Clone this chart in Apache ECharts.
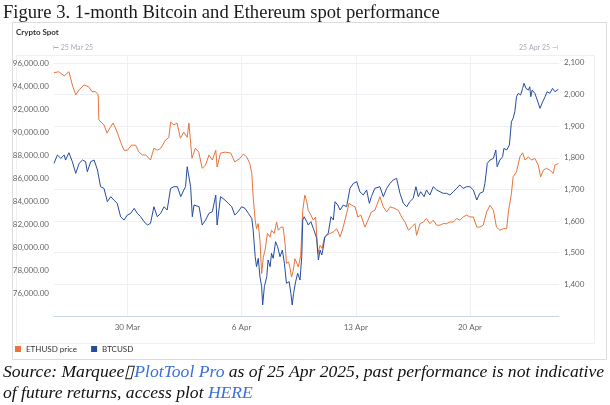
<!DOCTYPE html>
<html>
<head>
<meta charset="utf-8">
<script src="https://cdn.jsdelivr.net/npm/echarts@6/dist/echarts.min.js"></script>
<style>
  html, body { margin: 0; padding: 0; background: #fff; }
  #chart { width: 610px; height: 405px; }
</style>
</head>
<body>
<div id="chart"></div>
<script>
// ETH (right axis)
var ethTime = [
  '2025-03-25 12:00','2025-03-25 19:00','2025-03-26 03:00','2025-03-26 10:00','2025-03-26 15:00','2025-03-26 20:00',
  '2025-03-27 01:00','2025-03-27 08:00','2025-03-27 15:00','2025-03-27 20:00','2025-03-28 01:00','2025-03-28 05:00',
  '2025-03-28 06:00','2025-03-28 13:30','2025-03-28 18:00','2025-03-28 23:00','2025-03-29 03:00','2025-03-29 09:00',
  '2025-03-29 14:00','2025-03-29 19:00','2025-03-30 00:00','2025-03-30 06:00','2025-03-30 12:00','2025-03-30 17:00',
  '2025-03-30 22:00','2025-03-31 03:00','2025-03-31 10:00','2025-03-31 15:00','2025-03-31 20:00','2025-04-01 01:00',
  '2025-04-01 08:00','2025-04-01 13:00','2025-04-01 15:30','2025-04-01 20:30','2025-04-02 01:00','2025-04-02 06:00',
  '2025-04-02 11:00','2025-04-02 16:00','2025-04-02 18:30','2025-04-02 23:00','2025-04-03 04:00','2025-04-03 09:00',
  '2025-04-03 14:00','2025-04-03 19:00','2025-04-04 00:00','2025-04-04 05:00','2025-04-04 10:00','2025-04-04 12:00',
  '2025-04-04 17:00','2025-04-05 00:00','2025-04-05 08:00','2025-04-05 14:00','2025-04-05 21:30','2025-04-06 02:30',
  '2025-04-06 07:30','2025-04-06 12:00','2025-04-06 15:00','2025-04-06 17:00','2025-04-06 20:00','2025-04-06 22:00',
  '2025-04-07 00:30','2025-04-07 03:00','2025-04-07 05:30','2025-04-07 08:00','2025-04-07 10:30','2025-04-07 14:00',
  '2025-04-07 18:00','2025-04-07 20:00','2025-04-08 00:00','2025-04-08 03:30','2025-04-08 06:00','2025-04-08 10:00',
  '2025-04-08 13:00','2025-04-08 16:00','2025-04-08 18:00','2025-04-08 21:00','2025-04-08 23:00','2025-04-09 01:30',
  '2025-04-09 04:00','2025-04-09 06:30','2025-04-09 09:00','2025-04-09 11:30','2025-04-09 15:00','2025-04-09 18:00',
  '2025-04-09 21:00','2025-04-10 00:00','2025-04-10 02:00','2025-04-10 06:00','2025-04-10 09:30','2025-04-10 13:00',
  '2025-04-10 16:00','2025-04-10 19:30','2025-04-10 22:30','2025-04-11 01:30','2025-04-11 05:00','2025-04-11 10:00',
  '2025-04-11 15:00','2025-04-11 20:00','2025-04-12 01:00','2025-04-12 05:30','2025-04-12 10:30','2025-04-12 14:00',
  '2025-04-12 18:00','2025-04-12 23:00','2025-04-13 03:00','2025-04-13 07:30','2025-04-13 13:30','2025-04-13 18:00',
  '2025-04-13 23:00','2025-04-14 04:00','2025-04-14 11:30','2025-04-14 16:30','2025-04-14 21:30','2025-04-15 02:30',
  '2025-04-15 09:30','2025-04-15 14:30','2025-04-15 19:30','2025-04-16 00:30','2025-04-16 05:30','2025-04-16 10:00',
  '2025-04-16 15:00','2025-04-16 17:30','2025-04-16 22:30','2025-04-17 03:30','2025-04-17 08:00','2025-04-17 13:00',
  '2025-04-17 18:00','2025-04-17 23:00','2025-04-18 04:00','2025-04-18 08:30','2025-04-18 13:30','2025-04-18 18:30',
  '2025-04-18 23:30','2025-04-19 04:30','2025-04-19 09:00','2025-04-19 14:00','2025-04-19 19:00','2025-04-20 00:00',
  '2025-04-20 05:00','2025-04-20 10:00','2025-04-20 14:30','2025-04-20 19:30','2025-04-21 00:30','2025-04-21 05:30',
  '2025-04-21 10:30','2025-04-21 15:00','2025-04-21 20:00','2025-04-22 01:00','2025-04-22 06:00','2025-04-22 08:30',
  '2025-04-22 13:00','2025-04-22 15:30','2025-04-22 20:30','2025-04-23 01:30','2025-04-23 05:30','2025-04-23 09:00',
  '2025-04-23 14:00','2025-04-23 18:30','2025-04-23 23:30','2025-04-24 04:30','2025-04-24 08:00','2025-04-24 12:00',
  '2025-04-24 16:30','2025-04-24 21:30','2025-04-25 02:30','2025-04-25 05:00','2025-04-25 10:00'
];
var ethPrice = [
  2069,2072,2059,2072,2030,1999,
  2015,2030,2025,2009,2009,1999,
  1920,1904,1878,1897,1910,1881,
  1850,1824,1824,1840,1840,1818,
  1809,1809,1793,1830,1824,1830,
  1856,1865,1913,1904,1910,1862,
  1881,1865,1910,1799,1830,1818,
  1767,1777,1809,1793,1824,1771,
  1815,1818,1815,1787,1798,1812,
  1803,1782,1751,1677,1603,1576,
  1592,1539,1434,1486,1508,1561,
  1550,1571,1561,1597,1571,1581,
  1581,1529,1466,1471,1455,1423,
  1444,1481,1481,1455,1492,1634,
  1682,1661,1634,1619,1603,1613,
  1497,1523,1513,1545,1555,1561,
  1566,1576,1550,1581,1624,1656,
  1650,1645,1613,1619,1581,1603,
  1629,1634,1677,1645,1629,1645,
  1640,1634,1613,1597,1571,1581,
  1592,1555,1592,1597,1608,1592,
  1603,1587,1587,1592,1592,1597,
  1597,1608,1603,1613,1619,1613,
  1613,1581,1581,1587,1629,1650,
  1634,1581,1571,1576,1576,1629,
  1687,1740,1756,1803,1816,1793,
  1803,1793,1798,1777,1740,1761,
  1767,1761,1751,1777,1782
];

// BTC (left axis)
var btcTime = [
  '2025-03-25 12:00','2025-03-25 17:00','2025-03-25 22:00','2025-03-26 03:00','2025-03-26 05:00','2025-03-26 10:00',
  '2025-03-26 15:00','2025-03-26 20:00','2025-03-27 01:00','2025-03-27 06:00','2025-03-27 10:30','2025-03-27 13:00',
  '2025-03-27 18:00','2025-03-27 23:00','2025-03-28 04:00','2025-03-28 08:30','2025-03-28 13:30','2025-03-28 18:30',
  '2025-03-28 23:30','2025-03-29 04:00','2025-03-29 09:00','2025-03-29 14:00','2025-03-29 19:00','2025-03-30 00:00',
  '2025-03-30 05:00','2025-03-30 10:00','2025-03-30 14:30','2025-03-30 19:30','2025-03-31 00:30','2025-03-31 05:30',
  '2025-03-31 10:00','2025-03-31 15:00','2025-03-31 20:00','2025-04-01 01:00','2025-04-01 06:00','2025-04-01 10:30',
  '2025-04-01 15:30','2025-04-01 20:30','2025-04-02 01:30','2025-04-02 06:30','2025-04-02 11:00','2025-04-02 13:30',
  '2025-04-02 16:00','2025-04-02 18:30','2025-04-02 21:00','2025-04-02 23:30','2025-04-03 02:00','2025-04-03 09:30',
  '2025-04-03 14:00','2025-04-03 19:00','2025-04-04 00:00','2025-04-04 05:00','2025-04-04 10:00','2025-04-04 12:00',
  '2025-04-04 17:00','2025-04-04 23:30','2025-04-05 04:30','2025-04-05 09:30','2025-04-05 14:00','2025-04-05 19:00',
  '2025-04-06 00:00','2025-04-06 05:00','2025-04-06 10:00','2025-04-06 15:00','2025-04-06 17:00','2025-04-06 20:00',
  '2025-04-06 22:00','2025-04-07 00:30','2025-04-07 03:00','2025-04-07 05:30','2025-04-07 07:00','2025-04-07 09:30',
  '2025-04-07 13:00','2025-04-07 15:00','2025-04-07 18:00','2025-04-07 20:00','2025-04-07 22:30','2025-04-08 02:00',
  '2025-04-08 05:00','2025-04-08 08:30','2025-04-08 12:00','2025-04-08 15:00','2025-04-08 18:00','2025-04-08 22:00',
  '2025-04-09 00:30','2025-04-09 02:30','2025-04-09 04:30','2025-04-09 07:30','2025-04-09 10:30','2025-04-09 14:00',
  '2025-04-09 16:30','2025-04-09 18:00','2025-04-09 20:00','2025-04-10 00:00','2025-04-10 02:00','2025-04-10 06:00',
  '2025-04-10 09:30','2025-04-10 12:00','2025-04-10 14:30','2025-04-10 17:00','2025-04-10 19:30','2025-04-10 22:00',
  '2025-04-11 00:00','2025-04-11 02:30','2025-04-11 07:30','2025-04-11 11:30','2025-04-11 15:00','2025-04-11 17:30',
  '2025-04-11 21:30','2025-04-12 01:00','2025-04-12 05:30','2025-04-12 10:30','2025-04-12 15:30','2025-04-12 20:30',
  '2025-04-13 01:30','2025-04-13 06:00','2025-04-13 11:00','2025-04-13 16:00','2025-04-13 20:00','2025-04-13 23:00',
  '2025-04-14 04:00','2025-04-14 11:30','2025-04-14 16:30','2025-04-14 21:30','2025-04-15 02:30','2025-04-15 07:00',
  '2025-04-15 12:00','2025-04-15 17:00','2025-04-15 22:00','2025-04-16 03:00','2025-04-16 07:30','2025-04-16 12:30',
  '2025-04-16 16:30','2025-04-16 20:00','2025-04-16 23:30','2025-04-17 04:30','2025-04-17 08:00','2025-04-17 13:00',
  '2025-04-17 18:00','2025-04-17 23:00','2025-04-18 04:00','2025-04-18 08:30','2025-04-18 13:30','2025-04-18 18:30',
  '2025-04-18 23:30','2025-04-19 04:30','2025-04-19 09:00','2025-04-19 14:00','2025-04-19 19:00','2025-04-20 00:00',
  '2025-04-20 05:00','2025-04-20 10:00','2025-04-20 14:30','2025-04-20 19:30','2025-04-20 22:00','2025-04-21 01:30',
  '2025-04-21 05:30','2025-04-21 10:30','2025-04-21 14:00','2025-04-21 16:00','2025-04-21 20:00','2025-04-22 00:00',
  '2025-04-22 02:00','2025-04-22 06:00','2025-04-22 10:00','2025-04-22 13:00','2025-04-22 15:30','2025-04-22 18:00',
  '2025-04-22 20:30','2025-04-22 23:00','2025-04-23 02:30','2025-04-23 05:30','2025-04-23 07:30','2025-04-23 10:30',
  '2025-04-23 14:00','2025-04-23 16:00','2025-04-23 17:30','2025-04-23 19:30','2025-04-23 23:30','2025-04-24 03:00',
  '2025-04-24 07:00','2025-04-24 11:00','2025-04-24 14:30','2025-04-24 17:30','2025-04-24 21:30','2025-04-25 01:30',
  '2025-04-25 05:00','2025-04-25 10:00'
];
var btcPrice = [
  87278,88000,87713,88000,87565,88200,
  87420,86409,87278,87565,87420,86548,
  87420,87565,86696,85246,85104,83945,
  84380,84087,83800,82635,82348,82783,
  82930,83365,82930,82635,82200,81913,
  82060,83504,82635,82930,83504,83217,
  85104,85246,85246,84380,84957,85246,
  86983,86840,85246,82635,83652,83504,
  81913,82348,82930,83070,84522,81913,
  84380,84087,83800,83504,82783,83070,
  83504,83365,82930,82496,81478,79157,
  78287,79017,77417,76548,74957,76548,
  77417,78870,78287,79452,79017,80460,
  80026,79157,79739,78583,76843,76983,
  75974,74957,75974,76983,77713,77130,
  79157,82348,82635,82200,81913,82200,
  81626,81774,80757,78870,79739,79304,
  79887,80896,81187,82635,82348,83945,
  83652,83217,83652,83504,85104,85539,
  85678,84809,84522,84957,83800,84380,
  85104,85246,84380,85104,85539,85826,
  85974,84670,83800,83504,83945,84235,
  85246,84380,84809,84380,84957,84522,
  85246,84957,84809,84670,84670,84522,
  84809,85104,85391,85104,85246,85246,
  84957,84087,84670,84809,85539,87278,
  87565,87713,88435,86983,87565,87852,
  88583,88435,88870,90896,91191,91765,
  93070,93365,93217,93800,94235,93800,
  93652,93939,93070,93652,93365,92783,
  92060,92635,93070,93504,93365,93800,
  93504,93713
];

var weekTicks = ['2025-03-30 00:00', '2025-04-06 00:00', '2025-04-13 00:00', '2025-04-20 00:00'];
var monthNames = ['Jan','Feb','Mar','Apr','May','Jun','Jul','Aug','Sep','Oct','Nov','Dec'];

function toMs(s) { return new Date(s.replace(' ', 'T') + ':00').getTime(); }

var ethData = ethTime.map(function (t, i) { return [toMs(t), ethPrice[i]]; });
var btcData = btcTime.map(function (t, i) { return [toMs(t), btcPrice[i]]; });
var tickValues = weekTicks.map(toMs);

var uiFont = 'Lato, "Open Sans", sans-serif';
var serifFont = '"Liberation Serif", serif';

var myChart = echarts.init(document.getElementById('chart'), null, { renderer: 'canvas' });

var option = {
  animation: false,
  backgroundColor: '#fff',
  color: ['#e8743b', '#264c9e'],
  grid: { left: 54, right: 51, top: 55, bottom: 89 },
  legend: {
    left: 15, top: 345, padding: 0,
    icon: 'rect', itemWidth: 6, itemHeight: 6, itemGap: 14,
    textStyle: { fontSize: 8, color: '#333', fontFamily: uiFont },
    data: ['ETHUSD price', 'BTCUSD']
  },
  xAxis: {
    type: 'value',
    min: toMs('2025-03-25 12:00'),
    max: toMs('2025-04-25 11:00'),
    axisLine: { lineStyle: { color: '#ccd6eb', width: 1 } },
    axisTick: { show: false, customValues: tickValues },
    splitLine: { show: true, lineStyle: { color: '#eef0f3', width: 1 } },
    axisLabel: {
      customValues: tickValues,
      color: '#666', fontSize: 8, margin: 7, fontFamily: uiFont,
      formatter: function (v) {
        var d = new Date(v);
        return d.getDate() + ' ' + monthNames[d.getMonth()];
      }
    }
  },
  yAxis: [
    {
      type: 'value', position: 'left',
      min: 74000, max: 96700, interval: 2000,
      axisLine: { show: false }, axisTick: { show: false },
      splitLine: { show: false },
      axisLabel: {
        showMinLabel: false, showMaxLabel: false,
        color: '#666', fontSize: 8, margin: 5, fontFamily: uiFont,
        formatter: function (v) {
          return v.toLocaleString('en-US', { minimumFractionDigits: 2, maximumFractionDigits: 2 });
        }
      }
    },
    {
      type: 'value', position: 'right',
      min: 1300, max: 2125, interval: 100,
      axisLine: { show: false }, axisTick: { show: false },
      splitLine: { show: true, lineStyle: { color: '#eef0f3', width: 1 } },
      axisLabel: {
        showMinLabel: false, showMaxLabel: false,
        color: '#666', fontSize: 8, margin: 5, fontFamily: uiFont,
        formatter: function (v) { return v.toLocaleString('en-US'); }
      }
    }
  ],
  series: [
    {
      name: 'ETHUSD price', type: 'line', yAxisIndex: 1,
      showSymbol: false, symbol: 'none',
      lineStyle: { width: 1 },
      data: ethData
    },
    {
      name: 'BTCUSD', type: 'line', yAxisIndex: 0,
      showSymbol: false, symbol: 'none',
      lineStyle: { width: 1 },
      data: btcData
    }
  ],
  graphic: [
    { type: 'rect', z: -10, shape: { x: 12.5, y: 22.5, width: 594, height: 337 },
      style: { fill: '#fff', stroke: '#dcdcdc', lineWidth: 1 } },
    { type: 'rect', z: -9, shape: { x: 16.5, y: 55.5, width: 578, height: 288 },
      style: { fill: 'none', stroke: '#f0f0f0', lineWidth: 1 } },
    { type: 'text', left: 3, top: 4,
      style: { text: 'Figure 3. 1-month Bitcoin and Ethereum spot performance',
        font: '18.6px ' + serifFont, fill: '#1a1a1a' } },
    { type: 'text', left: 16, top: 28,
      style: { text: 'Crypto Spot', font: 'bold 8px ' + uiFont, fill: '#333' } },
    { type: 'text', left: 53, top: 44,
      style: { text: '\u22A2 25 Mar 25', font: '7px ' + uiFont, fill: '#aab' } },
    { type: 'text', left: 519, top: 44,
      style: { text: '25 Apr 25 \u22A3', font: '7px ' + uiFont, fill: '#aab' } },
    { type: 'text', left: 3, top: 363,
      style: {
        text: '{n|Source: Marquee\u25AF}{l|PlotTool Pro}{n| as of 25 Apr 2025, past performance is not indicative}\n{n|of future returns, access plot }{l|HERE}',
        rich: {
          n: { font: 'italic 17.6px ' + serifFont, fill: '#111', lineHeight: 21 },
          l: { font: 'italic 17.6px ' + serifFont, fill: '#3a6fd8', lineHeight: 21 }
        }
      } }
  ]
};

myChart.setOption(option);
</script>
</body>
</html>
